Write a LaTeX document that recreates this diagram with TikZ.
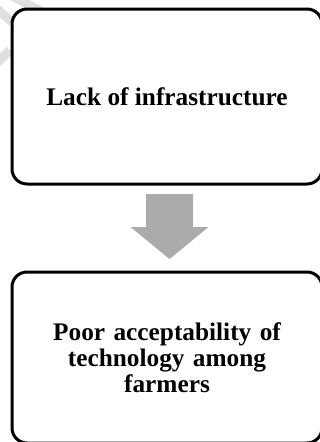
\documentclass[tikz,border=0pt]{standalone}
\usepackage{fontspec}
\setmainfont{Liberation Serif}
\begin{document}
\begin{tikzpicture}[x=1pt,y=-1pt,
  box/.style={draw=black, line width=3pt, rounded corners=15pt, fill=white,
    align=center, font=\bfseries\fontsize{25.3}{26}\selectfont, inner sep=0pt},
  blockarrow/.style={fill=black!33, draw=none},
  wmark/.style={line width=9pt, draw=black!12, line cap=butt}]
\useasboundingbox (0,0) rectangle (320,442);
\clip (0,0) rectangle (320,442);
% faint watermark stripes
\draw[wmark] (8,-6) -- (62,22);
\draw[wmark] (-4,8) -- (12,22);
\draw[wmark] (-4,64) -- (10,50);
% boxes
\node[box, minimum width=310pt, minimum height=175pt] (a) at (167,96.5) {Lack of infrastructure};
\node[box, minimum width=310pt, minimum height=171pt, text width=260pt] (b) at (167,357.5)
  {Poor acceptability of\\technology among\\farmers};
% block arrow between boxes
\coordinate (t) at (169.5,194);
\fill[blockarrow] (t) ++(-23.5,0) -- ++(47,0) -- ++(0,33) -- ++(15.5,0)
  -- (169.5,259) -- (130.5,227) -- ++(15.5,0) -- cycle;
\end{tikzpicture}
\end{document}
